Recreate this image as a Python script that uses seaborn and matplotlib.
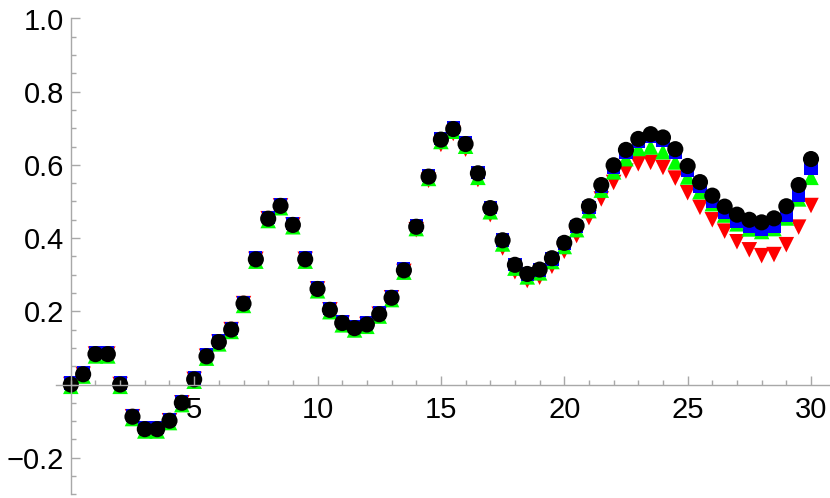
import numpy as np
import pandas as pd
import matplotlib.pyplot as plt
import seaborn as sns
from matplotlib.ticker import FixedLocator, MultipleLocator

# sample points, 0 to 30 in steps of 0.5
x = [i / 2 for i in range(61)]

red = [0.000, 0.028, 0.083, 0.083, 0.000, -0.088, -0.122, -0.122, -0.099, -0.050,
       0.014, 0.077, 0.116, 0.150, 0.221, 0.342, 0.453, 0.488, 0.436, 0.342,
       0.261, 0.204, 0.168, 0.154, 0.164, 0.192, 0.237, 0.309, 0.423, 0.558,
       0.656, 0.686, 0.643, 0.560, 0.464, 0.373, 0.308, 0.284, 0.293, 0.323,
       0.364, 0.407, 0.456, 0.507, 0.552, 0.583, 0.603, 0.607, 0.593, 0.564,
       0.524, 0.484, 0.450, 0.419, 0.390, 0.368, 0.352, 0.355, 0.382, 0.430,
       0.489]

green = [-0.005, 0.023, 0.078, 0.078, -0.005, -0.093, -0.127, -0.127, -0.104, -0.055,
         0.009, 0.072, 0.111, 0.145, 0.216, 0.337, 0.448, 0.483, 0.431, 0.337,
         0.256, 0.199, 0.163, 0.149, 0.159, 0.187, 0.232, 0.307, 0.426, 0.563,
         0.664, 0.692, 0.651, 0.566, 0.472, 0.384, 0.318, 0.294, 0.305, 0.336,
         0.377, 0.423, 0.475, 0.531, 0.581, 0.617, 0.645, 0.649, 0.636, 0.608,
         0.567, 0.527, 0.494, 0.463, 0.439, 0.425, 0.418, 0.426, 0.455, 0.507,
         0.566]

blue = [0.004, 0.032, 0.087, 0.087, 0.004, -0.084, -0.118, -0.118, -0.095, -0.046,
        0.018, 0.081, 0.120, 0.154, 0.225, 0.346, 0.457, 0.492, 0.440, 0.346,
        0.265, 0.208, 0.172, 0.158, 0.168, 0.196, 0.241, 0.316, 0.435, 0.572,
        0.673, 0.702, 0.661, 0.580, 0.484, 0.395, 0.328, 0.302, 0.313, 0.343,
        0.385, 0.431, 0.484, 0.541, 0.594, 0.635, 0.665, 0.677, 0.667, 0.634,
        0.586, 0.540, 0.499, 0.470, 0.445, 0.431, 0.424, 0.433, 0.462, 0.517,
        0.590]

black = [0.000, 0.028, 0.083, 0.083, 0.000, -0.088, -0.122, -0.122, -0.099, -0.050,
         0.014, 0.077, 0.116, 0.150, 0.221, 0.342, 0.453, 0.488, 0.436, 0.342,
         0.261, 0.204, 0.168, 0.154, 0.164, 0.192, 0.237, 0.312, 0.431, 0.568,
         0.669, 0.698, 0.657, 0.577, 0.482, 0.394, 0.327, 0.302, 0.314, 0.345,
         0.387, 0.434, 0.487, 0.545, 0.599, 0.641, 0.671, 0.684, 0.675, 0.643,
         0.597, 0.553, 0.516, 0.486, 0.464, 0.450, 0.443, 0.454, 0.487, 0.545,
         0.616]

names = ['red', 'green', 'blue', 'black']
df = pd.concat([pd.DataFrame({'x': x, 'y': v, 'series': n})
                for n, v in zip(names, [red, green, blue, black])], ignore_index=True)

plt.rcParams['font.family'] = ['Liberation Sans', 'DejaVu Sans']

fig = plt.figure(figsize=(8.3, 4.98), dpi=100)
ax = fig.add_axes([56 / 830, 3.7 / 498, 774 / 830, 475.8 / 498])

sns.scatterplot(data=df, x='x', y='y', hue='series', style='series', size='series',
                palette={'red': '#ff0000', 'green': '#00ff00', 'blue': '#0000ff', 'black': '#000000'},
                markers={'red': 'v', 'green': '^', 'blue': 's', 'black': 'o'},
                sizes={'red': 125, 'green': 125, 'blue': 90, 'black': 135},
                linewidth=0, legend=False, ax=ax, clip_on=False)

ax.set_xlim(-0.6, 30.77)
ax.set_ylim(-0.3, 1.0)
ax.set_xlabel('')
ax.set_ylabel('')

axis_grey = '#a8a8a8'
for side in ['top', 'right']:
    ax.spines[side].set_visible(False)
ax.spines['left'].set_position(('data', 0))
ax.spines['bottom'].set_position(('data', 0))
for side in ['left', 'bottom']:
    ax.spines[side].set_color(axis_grey)
    ax.spines[side].set_linewidth(1.0)

ax.xaxis.set_major_locator(FixedLocator([5, 10, 15, 20, 25, 30]))
ax.xaxis.set_minor_locator(MultipleLocator(1))
ax.yaxis.set_major_locator(FixedLocator([-0.2, 0.2, 0.4, 0.6, 0.8, 1.0]))
ax.yaxis.set_minor_locator(MultipleLocator(0.05))
ax.set_xticklabels(['5', '10', '15', '20', '25', '30'])
ax.set_yticklabels(['\u22120.2', '0.2', '0.4', '0.6', '0.8', '1.0'])

ax.tick_params(which='both', direction='in', color=axis_grey, width=1.0, labelsize=21)
ax.tick_params(which='major', length=6.5)
ax.tick_params(which='minor', length=3.5)
ax.tick_params(axis='x', which='major', pad=8.5)
ax.tick_params(axis='y', which='major', pad=5)

fig.savefig('out.png', dpi=100)
